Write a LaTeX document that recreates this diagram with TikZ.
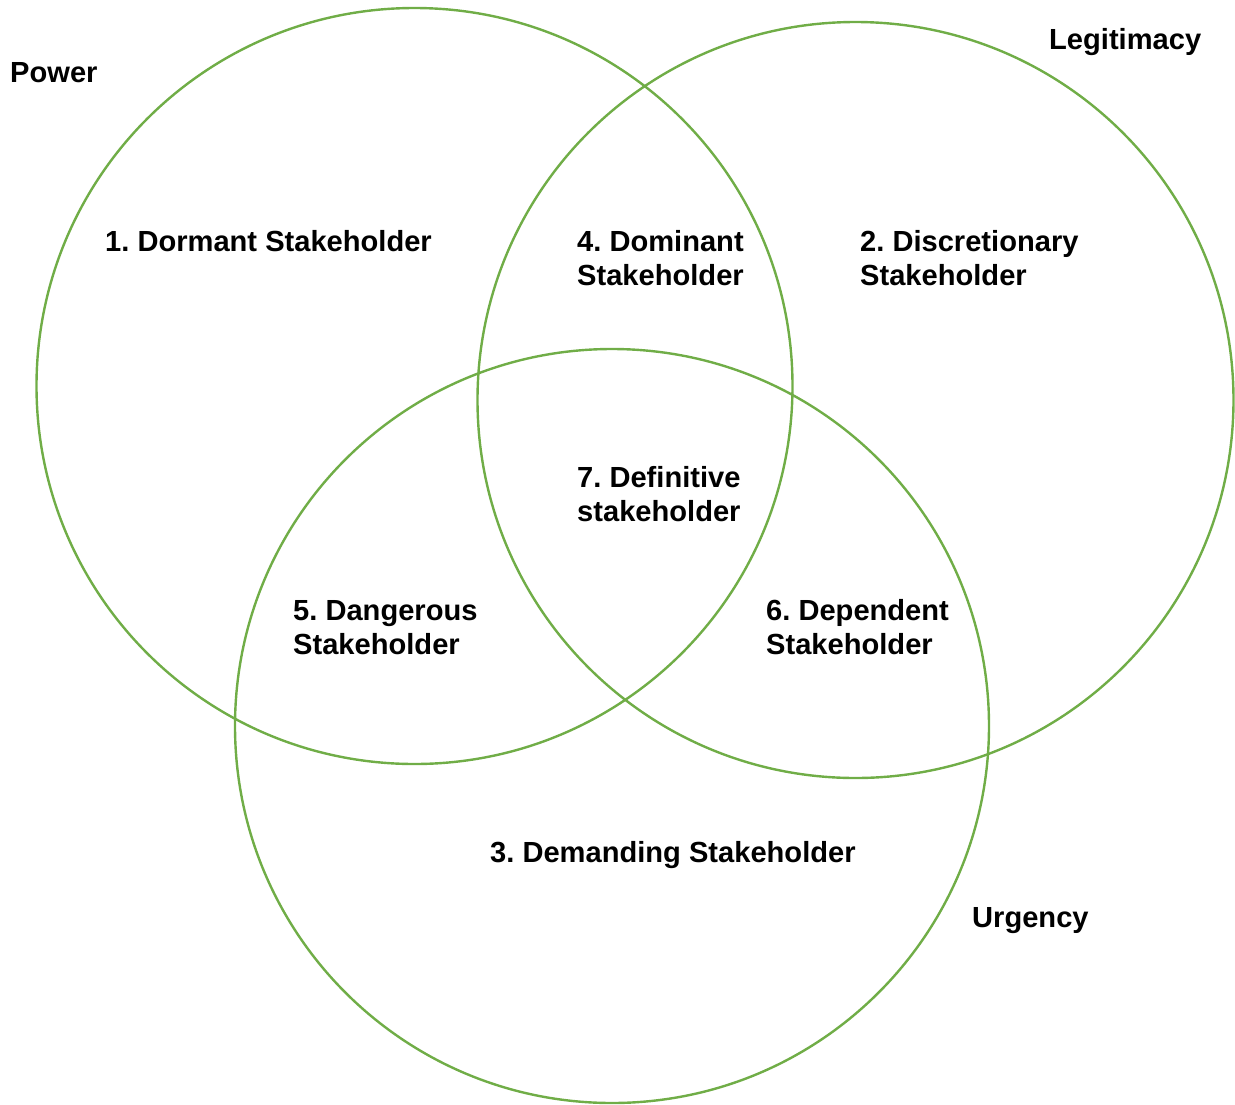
\documentclass[tikz,border=0pt]{standalone}
\usepackage{fontspec}
\setmainfont{Liberation Sans}
\frenchspacing
\definecolor{vgreen}{HTML}{70AD47}
\begin{document}
\begin{tikzpicture}[x=1pt,y=-1pt,
  ring/.style={draw=vgreen,line width=2.4pt},
  lbl/.style={anchor=base west,inner sep=0pt,align=left,
    font=\fontsize{29.1}{34}\selectfont\bfseries}]
\useasboundingbox (0,0) rectangle (1235,1104);
% the three attribute circles
\draw[ring] (414.5,386) circle[radius=378];
\draw[ring] (855.5,400) circle[radius=378];
\draw[ring] (612,726) circle[radius=377];
% attribute names
\node[lbl] (power) at (10,82) {Power};
\node[lbl] (legit) at (1049,49) {Legitimacy};
\node[lbl] (urg) at (972,927) {Urgency};
% stakeholder classes (two-line labels are placed by their last baseline)
\node[lbl] (dormant) at (105,251) {1. Dormant Stakeholder};
\node[lbl] (dominant) at (577,285) {4. Dominant\\Stakeholder};
\node[lbl] (discr) at (860,285) {2. Discretionary\\Stakeholder};
\node[lbl] (defin) at (577,521) {7. Definitive\\stakeholder};
\node[lbl] (danger) at (293,654) {5. Dangerous\\Stakeholder};
\node[lbl] (depend) at (766,654) {6. Dependent\\Stakeholder};
\node[lbl] (demand) at (490,862) {3. Demanding Stakeholder};
\end{tikzpicture}
\end{document}
